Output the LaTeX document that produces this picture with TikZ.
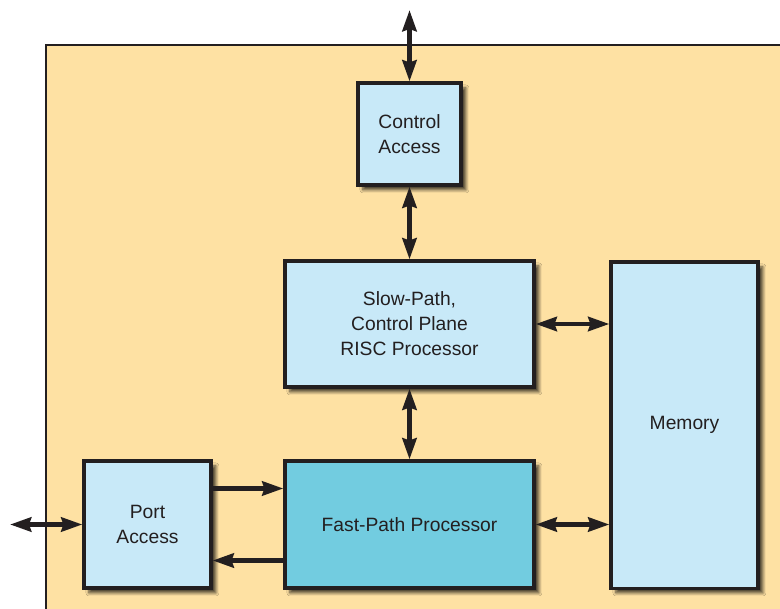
\documentclass[tikz,border=0pt]{standalone}
\usepackage{fontspec}
\setmainfont{Liberation Sans}
\usetikzlibrary{arrows.meta,positioning,shadows.blur}
\definecolor{ink}{HTML}{231F20}
\definecolor{chipbg}{HTML}{FEE1A3}
\definecolor{lightblk}{HTML}{C8E9F8}
\definecolor{fastblk}{HTML}{72CCE0}
\tikzset{
  >={Stealth[length=15pt,width=10pt,inset=1.5pt]},
  blk/.style ={draw=ink, line width=2.2pt, fill=lightblk, align=center, text=ink,
               font=\fontsize{13.7}{17.7}\selectfont, inner sep=0pt,
               blur shadow={shadow xshift=3.5pt, shadow yshift=-3.5pt, shadow blur steps=6, shadow opacity=70}},
  bus/.style ={<->, draw=ink, line width=3.3pt},
  link/.style={->, draw=ink, line width=3.3pt}
}
\begin{document}
\begin{tikzpicture}[x=0.025cm,y=-0.025cm]
\useasboundingbox (0,0) rectangle (780,609);
% chip outline
\fill[chipbg] (46,45) rectangle (780,609);
\draw[ink, line width=2pt] (780,45) -- (46,45) -- (46,609);

\node[blk, minimum width=2.575cm, minimum height=2.55cm] (ctrl) at (409.5,134) {Control\\Access};
\node[blk, minimum width=6.225cm, minimum height=3.15cm] (slow) at (409.5,324) {Slow-Path,\\Control Plane\\RISC Processor};
\node[blk, minimum width=3.675cm, minimum height=8.15cm] (mem)  at (684.5,425) {Memory};
\node[blk, minimum width=3.175cm, minimum height=3.175cm] (port) at (147.5,524.5) {Port\\Access};
\node[blk, fill=fastblk, minimum width=6.225cm, minimum height=3.175cm] (fast) at (409.5,524.5) {Fast-Path Processor};

\coordinate (hostio) at (409.5,10);
\coordinate (lineio) at (10,524.5);

\draw[bus] (hostio) -- (ctrl);
\draw[bus] (ctrl) -- (slow);
\draw[bus] (slow) -- (fast);
\draw[bus] (slow.east) -- (slow.east -| mem.west);
\draw[bus] (fast.east) -- (fast.east -| mem.west);
\draw[bus] (lineio) -- (port);
\draw[link] ([yshift=9mm]port.east) -- ([yshift=9mm]port.east -| fast.west);
\draw[link] ([yshift=-9mm]fast.west) -- ([yshift=-9mm]fast.west -| port.east);
\end{tikzpicture}
\end{document}
